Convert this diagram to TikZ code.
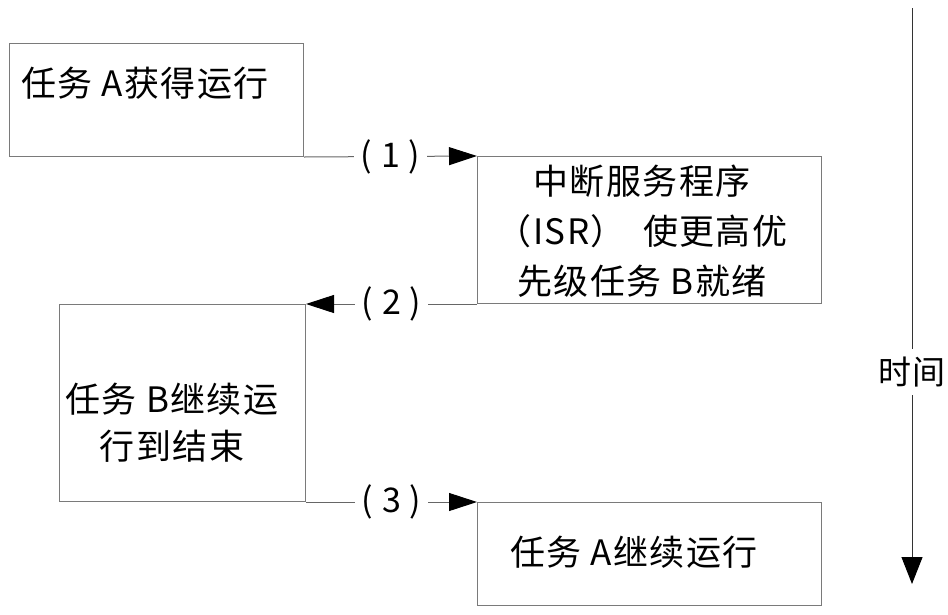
\documentclass[tikz,border=0pt]{standalone}
\usepackage{fontspec}
\setmainfont[LetterSpace=4]{Noto Sans CJK SC}
\usepackage{tikz}
\usetikzlibrary{arrows.meta}

\definecolor{boxgray}{HTML}{7A7A7A}
\definecolor{linegray}{HTML}{666666}

\begin{document}
\begin{tikzpicture}[x=1pt,y=-1pt,
  box/.style={draw=boxgray,line width=1pt,inner sep=0pt,anchor=north west},
  txt/.style={inner sep=0pt,font=\fontsize{35}{50}\selectfont,align=center},
  conn/.style={draw=linegray,line width=1pt,-{Triangle[length=28pt,width=18pt,color=black]}},
  numlbl/.style={fill=white,inner xsep=7pt,inner ysep=2pt,font=\fontsize{34}{40}\selectfont}]
\useasboundingbox (0,0) rectangle (948,614);
% the four stages
\node[box,minimum width=294pt,minimum height=113pt] (runA) at (9,43) {};
\node[box,minimum width=344pt,minimum height=147pt] (isr) at (477,156) {};
\node[box,minimum width=246pt,minimum height=197pt] (taskB) at (59,304) {};
\node[box,minimum width=344pt,minimum height=103pt] (resumeA) at (477,502) {};
\node[txt,anchor=west] (runAtext) at (21,83) {任务 A获得运行};
\node[txt] (isrtext) at (642,231) {中断服务程序\\（ISR）\hspace{0.5em}使更高优\\先级任务 B就绪};
\node[txt,font=\fontsize{35}{47}\selectfont] (taskBtext) at (172,423) {任务 B继续运\\行到结束};
\node[txt] (resumeAtext) at (634,552) {任务 A继续运行};
% switches
\draw[conn] (runA.south east) -- node[numlbl] (sw1) {( 1 )} (isr.north west);
\draw[conn] (isr.south west) -- node[numlbl] (sw2) {( 2 )} (isr.south west -| taskB.east);
\draw[conn] (taskB.south east) -- node[numlbl] (sw3) {( 3 )} (taskB.south east -| resumeA.west);
% time axis
\coordinate (tstart) at (912,8);
\coordinate (tend) at (912,584);
\draw[line width=1pt,draw=black!80,-{Triangle[length=27pt,width=21pt,color=black]}] (tstart) -- node[pos=0.632,fill=white,inner xsep=2pt,inner ysep=8pt,font=\fontsize{33}{40}\selectfont] (timelbl) {时间} (tend);
\end{tikzpicture}
\end{document}
